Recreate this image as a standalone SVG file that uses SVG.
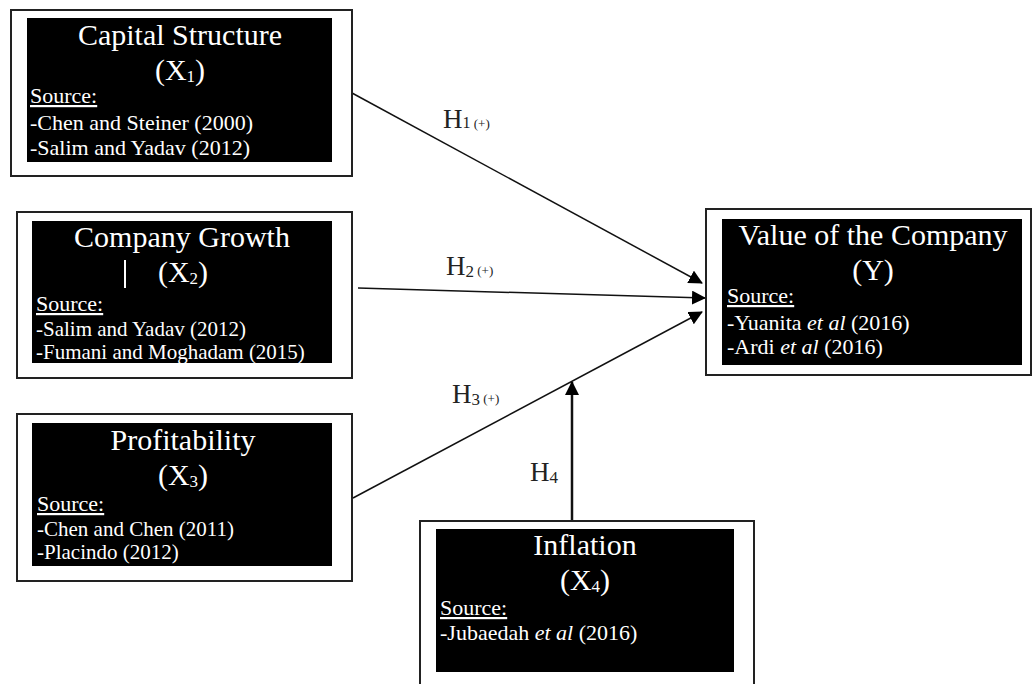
<svg xmlns="http://www.w3.org/2000/svg" width="1033" height="684" viewBox="0 0 1033 684">
<style>
.outer{fill:#fff;stroke:#222;stroke-width:2}
.inner{fill:#000}
.t{font-family:"Liberation Serif","Times New Roman",serif;fill:#fff}
.title{font-size:30px;text-anchor:middle}
.src{font-size:22px}
.sm{font-size:21px}
.u{text-decoration:underline}
.lbl{font-family:"Liberation Serif","Times New Roman",serif;fill:#222;font-size:27px}
.edge{stroke:#111;stroke-width:1.5;fill:none}
</style>
<defs>
<marker id="ah2" markerWidth="14" markerHeight="14" refX="13" refY="7" orient="auto" markerUnits="userSpaceOnUse" viewBox="0 0 14 14">
<path d="M0,0 L14,7 L0,14 z" fill="#000"/>
</marker>
</defs>

<g id="connectors">
<line class="edge" x1="352" y1="93" x2="702" y2="283" marker-end="url(#ah2)"/>
<line class="edge" x1="358" y1="288" x2="705" y2="298" marker-end="url(#ah2)"/>
<line class="edge" x1="353" y1="498" x2="702" y2="312" marker-end="url(#ah2)"/>
<line class="edge" style="stroke-width:2.5" x1="572" y1="521" x2="572" y2="382" marker-end="url(#ah2)"/>
<text class="lbl" x="443" y="128">H<tspan font-size="16">1</tspan><tspan font-size="13"> (+)</tspan></text>
<text class="lbl" x="446" y="275">H<tspan font-size="17" dy="2">2</tspan><tspan font-size="13" dy="-2"> (+)</tspan></text>
<text class="lbl" x="452" y="403">H<tspan font-size="17" dy="2">3</tspan><tspan font-size="13" dy="-2"> (+)</tspan></text>
<text class="lbl" x="530" y="481">H<tspan font-size="17" dy="2">4</tspan></text>
</g>

<g id="capital-structure">
<rect class="outer" x="11" y="10" width="341" height="166"/>
<rect class="inner" x="27" y="18" width="305" height="144"/>
<text class="t title" x="180" y="45">Capital Structure</text>
<text class="t title" x="180" y="80">(X<tspan font-size="17" dy="2">1</tspan><tspan dy="-2">)</tspan></text>
<text class="t src u" x="30" y="103">Source:</text>
<text class="t src" x="30" y="130">-Chen and Steiner (2000)</text>
<text class="t src" x="30" y="155">-Salim and Yadav (2012)</text>
</g>

<g id="company-growth">
<rect class="outer" x="17" y="212" width="335" height="166"/>
<rect class="inner" x="32" y="221" width="300" height="142"/>
<text class="t title" x="182" y="247">Company Growth</text>
<line x1="125" y1="260" x2="125" y2="288" stroke="#fff" stroke-width="2"/>
<text class="t title" x="183" y="282">(X<tspan font-size="17" dy="2">2</tspan><tspan dy="-2">)</tspan></text>
<text class="t src u" x="36" y="311">Source:</text>
<text class="t src sm" x="36" y="336">-Salim and Yadav (2012)</text>
<text class="t src sm" x="36" y="359">-Fumani and Moghadam (2015)</text>
</g>

<g id="profitability">
<rect class="outer" x="17" y="414" width="335" height="167"/>
<rect class="inner" x="32" y="423" width="300" height="143"/>
<text class="t title" x="183" y="450">Profitability</text>
<text class="t title" x="183" y="485">(X<tspan font-size="17" dy="2">3</tspan><tspan dy="-2">)</tspan></text>
<text class="t src u" x="37" y="511">Source:</text>
<text class="t src sm" x="37" y="536">-Chen and Chen (2011)</text>
<text class="t src sm" x="37" y="559">-Placindo (2012)</text>
</g>

<g id="value-of-company">
<rect class="outer" x="706" y="209" width="325" height="166"/>
<rect class="inner" x="722" y="219" width="300" height="146"/>
<text class="t title" x="873" y="245">Value of the Company</text>
<text class="t title" x="873" y="280">(Y)</text>
<text class="t src u" x="727" y="303">Source:</text>
<text class="t src" x="727" y="330">-Yuanita <tspan font-style="italic">et al</tspan> (2016)</text>
<text class="t src" x="727" y="354">-Ardi <tspan font-style="italic">et al</tspan> (2016)</text>
</g>

<g id="inflation">
<rect class="outer" x="420" y="521" width="334" height="180"/>
<rect class="inner" x="436" y="529" width="298" height="143"/>
<text class="t title" x="585" y="555">Inflation</text>
<text class="t title" x="585" y="590">(X<tspan font-size="17" dy="2">4</tspan><tspan dy="-2">)</tspan></text>
<text class="t src u" x="440" y="615">Source:</text>
<text class="t src" x="440" y="640">-Jubaedah <tspan font-style="italic">et al</tspan> (2016)</text>
</g>
</svg>
